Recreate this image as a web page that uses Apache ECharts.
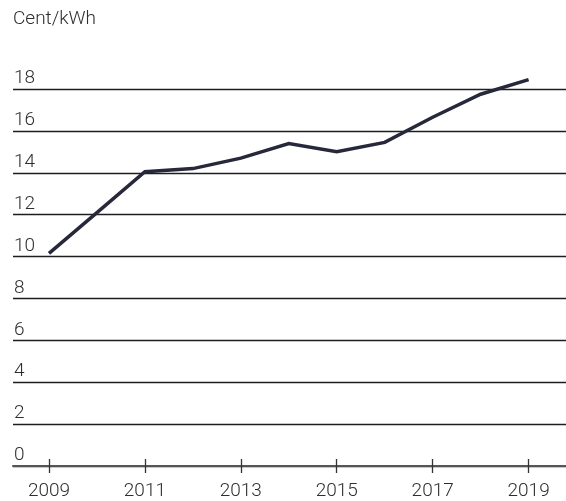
<!DOCTYPE html>
<html>
<head>
<meta charset="utf-8">
<script src="https://cdn.jsdelivr.net/npm/echarts@6/dist/echarts.min.js"></script>
<style>
html,body{margin:0;padding:0;background:#fff;}
#c{width:566px;height:501px;}
</style>
</head>
<body>
<div id="c"></div>
<script>
const years = [2009, 2010, 2011, 2012, 2013, 2014, 2015, 2016, 2017, 2018, 2019];
const prices = [10.15, 12.1, 14.05, 14.2, 14.7, 15.4, 15.0, 15.45, 16.65, 17.75, 18.45];
const yearTicks = [2009, 2011, 2013, 2015, 2017, 2019];
const unitLabel = 'Cent/kWh';

const FONT = 'Roboto, "Liberation Sans", sans-serif';
const FW = 300;
const FS = 19;
const TXT = '#2e2e2e';
const chart = echarts.init(document.getElementById('c'), null, {renderer: 'canvas'});
chart.setOption({
  animation: false,
  backgroundColor: '#ffffff',
  title: {
    text: unitLabel,
    left: 13, top: 10, padding: 0,
    textStyle: {fontFamily: FONT, fontSize: FS, fontWeight: FW, color: TXT}
  },
  grid: {left: 13, right: 0, top: 89, bottom: 34.5, containLabel: false},
  xAxis: [{
    type: 'value',
    min: 2008.25, max: 2019.78,
    axisLine: {show: true, onZero: false, lineStyle: {color: '#555', width: 2}},
    axisTick: {show: false},
    axisLabel: {
      customValues: yearTicks,
      margin: 16,
      fontFamily: FONT, fontSize: FS, fontWeight: FW, color: TXT,
      formatter: v => String(v)
    },
    splitLine: {show: false}
  }, {
    type: 'value',
    position: 'bottom',
    offset: -7,
    min: 2008.25, max: 2019.78,
    axisLine: {show: false},
    axisTick: {show: true, customValues: yearTicks, length: 14, lineStyle: {color: '#333', width: 1.3}},
    axisLabel: {show: false},
    splitLine: {show: false}
  }],
  yAxis: {
    type: 'value',
    min: 0, max: 18, interval: 2,
    axisLine: {show: false},
    axisTick: {show: false},
    axisLabel: {
      inside: true,
      margin: 1,
      align: 'left',
      verticalAlign: 'bottom',
      padding: [0, 0, 1, 0],
      fontFamily: FONT, fontSize: FS, fontWeight: FW, color: TXT
    },
    splitLine: {show: true, lineStyle: {color: '#1e1e1e', width: 1.3}}
  },
  series: [{
    type: 'line',
    xAxisIndex: 0,
    clip: false,
    symbol: 'none',
    data: years.map((y, i) => [y, prices[i]]),
    lineStyle: {color: '#27283a', width: 3.5, cap: 'butt', join: 'miter'},
    z: 5
  }]
});
</script>
</body>
</html>
